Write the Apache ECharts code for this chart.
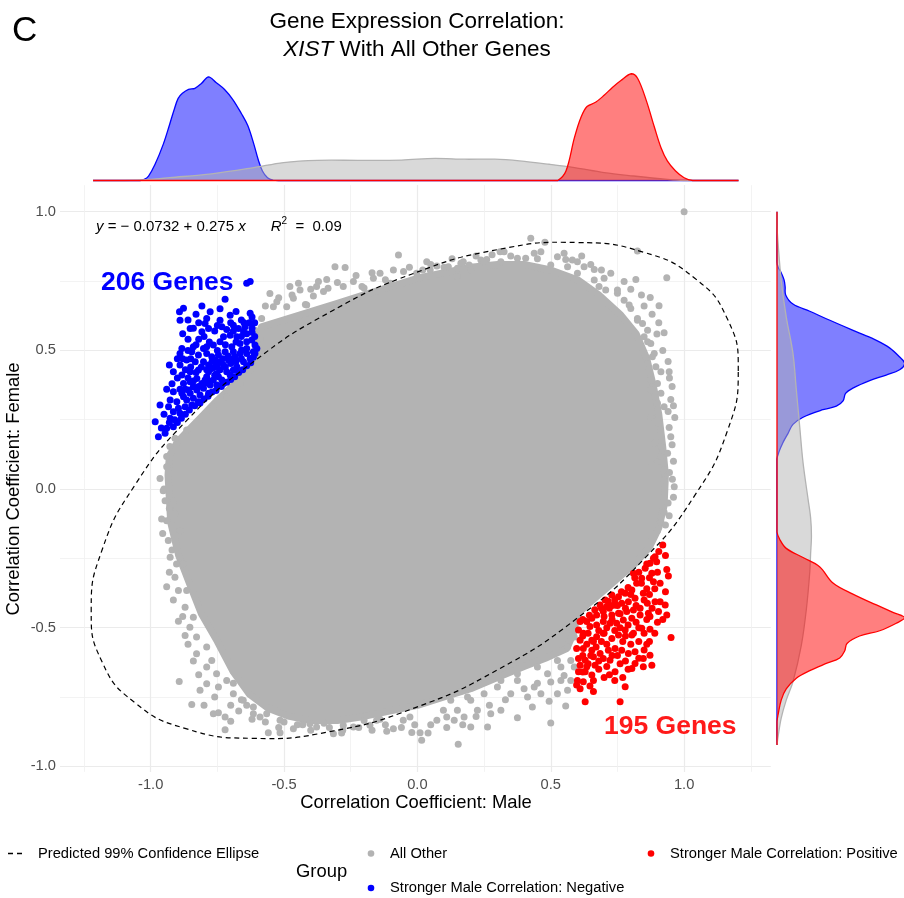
<!DOCTYPE html>
<html>
<head>
<meta charset="utf-8">
<script src="https://cdn.jsdelivr.net/npm/echarts@6/dist/echarts.min.js"></script>
<style>
  html, body { margin: 0; padding: 0; background: #ffffff; }
  #chart { width: 904px; height: 898px; }
</style>
</head>
<body>
<div id="chart"></div>
<script>
// ---- axis ticks ----
const xTicks = [-1.0, -0.5, 0.0, 0.5, 1.0];
const xMinorTicks = [-1.25, -0.75, -0.25, 0.25, 0.75, 1.25];
const yTicks = [-1.0, -0.5, 0.0, 0.5, 1.0];
const yMinorTicks = [-0.75, -0.25, 0.25, 0.75];

// ---- outline of the dense "All Other" cloud (male r, female r) ----
const cloudOutline = [
  [-0.935,0.05],[-0.93,0.12],[-0.90,0.17],[-0.85,0.22],[-0.80,0.27],[-0.75,0.32],[-0.70,0.365],
  [-0.65,0.415],[-0.615,0.46],[-0.60,0.53],[-0.585,0.585],[-0.50,0.61],[-0.40,0.64],[-0.30,0.67],
  [-0.20,0.70],[-0.10,0.73],[0.00,0.76],[0.10,0.78],[0.20,0.80],[0.30,0.81],[0.40,0.81],[0.50,0.79],
  [0.60,0.755],[0.68,0.70],[0.76,0.63],[0.82,0.56],[0.86,0.47],[0.885,0.37],[0.905,0.27],[0.92,0.15],
  [0.93,0.05],[0.925,-0.06],[0.905,-0.14],[0.87,-0.21],[0.82,-0.265],[0.76,-0.315],[0.70,-0.365],
  [0.645,-0.41],[0.60,-0.45],[0.585,-0.52],[0.56,-0.575],[0.48,-0.61],[0.40,-0.64],[0.30,-0.68],
  [0.20,-0.72],[0.10,-0.75],[0.00,-0.78],[-0.10,-0.80],[-0.20,-0.82],[-0.30,-0.835],[-0.40,-0.835],
  [-0.48,-0.82],[-0.56,-0.79],[-0.63,-0.74],[-0.69,-0.66],[-0.75,-0.55],[-0.81,-0.45],
  [-0.855,-0.34],[-0.895,-0.24],[-0.925,-0.12]
];

// ---- individual "All Other" genes around the edge of the cloud ----
const otherPoints = [
  [-0.609,0.573],[-0.59,0.543],[-0.584,0.615],[-0.553,0.705],[-0.527,0.675],[-0.54,0.657],[-0.49,0.657],
  [-0.478,0.730],[-0.465,0.688],[-0.446,0.742],[-0.44,0.718],[-0.415,0.664],[-0.39,0.696],[-0.378,0.730],
  [-0.371,0.748],[-0.352,0.712],[-0.34,0.756],[-0.335,0.724],[-0.309,0.802],[-0.278,0.730],[-0.271,0.799],
  [-0.24,0.748],[-0.208,0.73],[-0.165,0.760],[-0.14,0.778],[-0.102,0.742],[-0.071,0.844],[-0.052,0.784],
  [-0.003,0.778],[0.035,0.820],[0.048,0.79],[0.073,0.804],[0.116,0.802],[0.148,0.766],[0.172,0.82],
  [0.15,0.796],[0.194,0.808],[0.238,0.826],[0.26,0.828],[0.31,0.856],[0.325,0.856],[0.406,0.832],
  [0.425,0.904],[0.438,0.850],[0.463,0.856],[0.478,0.890],[0.5,0.808],[0.556,0.828],[0.581,0.826],
  [0.616,0.840],[0.663,0.792],[0.706,0.718],[0.725,0.778],[0.75,0.706],[0.775,0.748],[0.794,0.664],
  [0.819,0.756],[0.825,0.858],[0.825,0.615],[0.863,0.573],[0.873,0.691],[0.906,0.661],[0.935,0.762],
  [0.898,0.559],[0.925,0.564],[0.863,0.531],[0.881,0.477],[0.944,0.423],[0.9,0.381],[0.875,0.393],
  [0.913,0.345],[0.95,0.323],[0.925,0.297],[0.965,0.258],[0.944,0.222],[0.906,0.237],[0.95,0.189],
  [0.913,0.153],[0.938,0.129],[0.9,0.099],[0.925,0.069],[0.956,0.035],[0.963,0.008],[0.925,-0.084],
  [0.944,-0.096],[0.9,-0.15],[0.913,-0.12],[0.875,-0.186],
  [0.663,0.754],[0.70,0.760],[0.681,0.730],[0.75,0.718],[0.775,0.681],[0.80,0.651],[0.825,0.609],
  [0.844,0.597],[0.85,0.549],[0.875,0.525],[0.888,0.489],[0.863,0.453],[0.894,0.441],[0.913,0.423],
  [0.875,0.357],[0.90,0.309],[0.875,0.261],[0.888,0.165],[0.913,0.117],[0.875,0.081],[0.925,0.032],
  [0.563,0.802],[0.60,0.778],[0.625,0.802],[0.525,0.838],[0.375,0.832],[0.313,0.82],[0.25,0.82],
  [0.20,0.79],[0.163,0.814],[0.10,0.80],[0.02,0.79],[-0.12,0.755],[-0.20,0.725],[-0.42,0.665],
  [0.945,0.40],[0.955,0.37],[0.96,0.30],[0.94,0.28],[0.955,0.16],[0.96,0.10],[0.945,0.06],[0.96,-0.03],
  [0.94,-0.05],[0.93,-0.13],[0.94,0.46],[0.92,0.50],[0.905,0.60],[0.88,0.63],[0.85,0.66],[0.84,0.70],
  [0.80,0.72],[0.55,0.85],[0.60,0.82],[0.65,0.81],[0.69,0.79],[0.45,0.83],[0.35,0.84],[0.28,0.845],
  [0.22,0.84],[0.13,0.83],[0.05,0.81],[-0.03,0.80],[-0.09,0.79],[-0.17,0.78],[-0.23,0.77],[-0.30,0.745],
  [-0.40,0.72],[-0.47,0.70],[-0.52,0.69],[-0.57,0.66],
  [0.588,-0.642],[0.575,-0.618],[0.538,-0.642],[0.575,-0.69],[0.55,-0.672],[0.5,-0.696],[0.488,-0.666],
  [0.563,-0.726],[0.525,-0.738],[0.463,-0.738],[0.438,-0.714],[0.413,-0.75],[0.375,-0.69],[0.35,-0.738],
  [0.3,-0.714],[0.25,-0.738],[0.2,-0.762],[0.15,-0.798],[0.431,-0.786],[0.494,-0.765],[0.556,-0.782],
  [0.5,-0.844],[0.375,-0.825],[0.313,-0.798],[0.275,-0.81],[0.263,-0.858],[0.225,-0.798],[0.2,-0.858],
  [0.175,-0.822],[0.138,-0.834],[0.153,-0.92],[0.11,-0.822],[0.073,-0.834],[0.016,-0.906],[0.01,-0.879],
  [0.125,-0.762],[0.188,-0.75],[0.313,-0.69],[0.375,-0.666],[0.45,-0.642],[0.525,-0.618],[0.563,-0.57],
  [0.588,-0.534],[0.538,-0.69],[0.0975,-0.798],
  [0.45,-0.70],[0.40,-0.72],[0.33,-0.76],[0.27,-0.78],[0.22,-0.82],[0.17,-0.85],[0.11,-0.86],[0.05,-0.85],
  [0.04,-0.88],[-0.01,-0.85],[-0.06,-0.86],[-0.12,-0.85],[-0.17,-0.87],[-0.22,-0.86],[-0.28,-0.87],
  [-0.33,-0.86],[-0.40,-0.87],[-0.45,-0.85],[-0.52,-0.86],[-0.57,-0.84],[-0.62,-0.83],[-0.67,-0.80],
  [-0.70,-0.78],
  [-0.021,-0.878],[-0.053,-0.834],[-0.09,-0.864],[-0.115,-0.873],[-0.178,-0.852],[-0.24,-0.858],
  [-0.284,-0.88],[-0.315,-0.882],[-0.378,-0.858],[-0.465,-0.864],[-0.515,-0.879],[-0.559,-0.879],
  [-0.59,-0.822],[-0.615,-0.81],[-0.43,-0.85],[-0.35,-0.845],[-0.2,-0.835],[-0.14,-0.83],[-0.5,-0.84],
  [-0.66,-0.76],[-0.69,-0.70],[-0.64,-0.78],[-0.028,-0.822],[-0.153,-0.834],[-0.278,-0.852],
  [-0.403,-0.846],[-0.515,-0.834],[-0.565,-0.81],[-0.615,-0.786],[-0.653,-0.762],[-0.69,-0.738],
  [-0.715,-0.69],[-0.753,-0.666],[-0.771,-0.618],[-0.79,-0.57],[-0.828,-0.534],[-0.84,-0.462],
  [-0.871,-0.426],[-0.865,-0.366],[-0.909,-0.318],[-0.878,-0.27],[-0.903,-0.21],[-0.89,-0.15],
  [-0.909,-0.09],[-0.915,-0.042],
  [-0.94,0.08],[-0.95,0.0],[-0.93,-0.07],[-0.955,-0.16],[-0.92,-0.22],[-0.93,-0.30],[-0.915,-0.40],
  [-0.88,-0.46],[-0.86,-0.56],[-0.84,-0.62],[-0.82,-0.67],[-0.76,-0.75],[-0.80,-0.78],
  [-0.721,-0.868],[-0.70,-0.837],[-0.721,-0.822],[-0.746,-0.807],[-0.765,-0.81],[-0.746,-0.714],
  [-0.79,-0.702],[-0.815,-0.726],[-0.846,-0.777],[-0.893,-0.694],[-0.79,-0.642],[-0.828,-0.594],
  [-0.871,-0.528],[-0.853,-0.498],[-0.896,-0.477],[-0.896,-0.366],[-0.94,-0.352],[-0.903,-0.27],
  [-0.927,-0.246],[-0.934,-0.186],[-0.94,-0.114],[-0.959,-0.108],[-0.946,-0.042],[-0.953,-0.006],
  [-0.965,0.038],[-0.94,0.117],[-0.928,0.153],[-0.909,0.183],[-0.865,0.213],[-0.815,0.249],
  [-0.765,0.297],[-0.715,0.333],[-0.665,0.381],[-0.628,0.429],
  [1.0,1.0]
];

// ---- genes with stronger negative male correlation (206) ----
const negativePoints = [
  [-0.640,0.742],[-0.627,0.748],[-0.721,0.684],[-0.877,0.652],[-0.808,0.660],[-0.892,0.639],[-0.777,0.639],
  [-0.890,0.609],[-0.790,0.615],[-0.796,0.597],[-0.783,0.579],[-0.808,0.567],[-0.852,0.579],[-0.740,0.609],
  [-0.733,0.585],[-0.702,0.627],[-0.690,0.591],[-0.671,0.579],[-0.646,0.585],[-0.627,0.634],[-0.652,0.567],
  [-0.677,0.549],[-0.702,0.555],[-0.727,0.549],[-0.740,0.531],[-0.765,0.519],[-0.790,0.513],[-0.802,0.507],
  [-0.840,0.513],[-0.883,0.507],[-0.890,0.489],[-0.846,0.495],[-0.821,0.483],[-0.790,0.489],[-0.771,0.477],
  [-0.746,0.483],[-0.721,0.495],[-0.696,0.513],[-0.665,0.525],[-0.640,0.531],[-0.621,0.537],[-0.609,0.519],
  [-0.615,0.495],[-0.640,0.489],[-0.665,0.489],[-0.683,0.477],[-0.708,0.465],[-0.727,0.447],[-0.758,0.441],
  [-0.783,0.447],[-0.802,0.459],[-0.833,0.459],[-0.865,0.465],[-0.890,0.447],[-0.930,0.447],[-0.915,0.423],
  [-0.883,0.411],[-0.852,0.423],[-0.821,0.429],[-0.783,0.423],[-0.752,0.417],[-0.715,0.423],[-0.677,0.441],
  [-0.652,0.459],[-0.627,0.471],[-0.609,0.489],[-0.602,0.507],[-0.702,0.411],[-0.733,0.393],[-0.765,0.393],
  [-0.796,0.393],[-0.827,0.399],[-0.852,0.387],[-0.877,0.381],[-0.840,0.369],[-0.802,0.363],[-0.777,0.375],
  [-0.752,0.375],[-0.727,0.381],[-0.915,0.351],[-0.883,0.345],[-0.852,0.345],[-0.815,0.339],[-0.783,0.345],
  [-0.865,0.321],[-0.840,0.327],[-0.902,0.315],[-0.927,0.321],[-0.933,0.297],[-0.896,0.291],[-0.871,0.297],
  [-0.846,0.303],[-0.821,0.315],[-0.965,0.303],[-0.915,0.279],[-0.890,0.273],[-0.927,0.255],[-0.983,0.243],
  [-0.940,0.219],[-0.915,0.225],[-0.971,0.189],[-0.946,0.201],
  [-0.640,0.507],[-0.659,0.501],[-0.690,0.495],[-0.700,0.453],[-0.690,0.429],[-0.740,0.459],[-0.758,0.465],
  [-0.770,0.435],[-0.746,0.405],[-0.790,0.405],[-0.808,0.381],[-0.827,0.357],[-0.858,0.357],[-0.877,0.333],
  [-0.610,0.550],[-0.620,0.565],[-0.630,0.600],[-0.700,0.600],[-0.715,0.575],[-0.760,0.570],[-0.750,0.590],
  [-0.820,0.540],[-0.860,0.540],[-0.850,0.470],[-0.900,0.470],[-0.660,0.610],[-0.820,0.600],[-0.880,0.560],
  [-0.615,0.475],[-0.625,0.455],[-0.640,0.445],[-0.655,0.430],[-0.670,0.420],[-0.685,0.405],[-0.700,0.395],
  [-0.715,0.385],[-0.735,0.370],[-0.755,0.355],[-0.770,0.350],[-0.785,0.335],[-0.800,0.325],[-0.815,0.310],
  [-0.835,0.300],[-0.855,0.285],[-0.870,0.270],[-0.885,0.255],[-0.900,0.240],[-0.910,0.250],
  [-0.660,0.470],[-0.680,0.460],[-0.710,0.480],[-0.730,0.470],[-0.750,0.450],[-0.770,0.460],[-0.790,0.430],
  [-0.810,0.440],[-0.830,0.420],[-0.850,0.440],[-0.870,0.430],[-0.860,0.400],[-0.840,0.390],[-0.820,0.370],
  [-0.800,0.380],[-0.780,0.390],[-0.760,0.410],[-0.740,0.430],[-0.720,0.440],[-0.700,0.470],[-0.680,0.530],
  [-0.660,0.550],[-0.640,0.560],[-0.620,0.580],[-0.650,0.600],[-0.690,0.570],[-0.720,0.520],[-0.750,0.500],
  [-0.780,0.530],[-0.800,0.550],[-0.830,0.520],[-0.860,0.500],[-0.880,0.470],[-0.900,0.400],[-0.920,0.380],
  [-0.940,0.360],[-0.950,0.270],[-0.960,0.220],[-0.930,0.240],[-0.890,0.360],[-0.870,0.360],[-0.610,0.600],
  [-0.620,0.620],[-0.680,0.640],[-0.740,0.650],[-0.830,0.630],[-0.860,0.610],[-0.840,0.580]
];

// ---- genes with stronger positive male correlation (195) ----
const positivePoints = [
  [0.920,-0.202],[0.891,-0.244],[0.897,-0.262],[0.872,-0.268],[0.854,-0.286],[0.879,-0.304],[0.935,-0.290],
  [0.941,-0.314],[0.885,-0.334],[0.841,-0.322],[0.822,-0.340],[0.810,-0.304],[0.804,-0.364],[0.779,-0.376],
  [0.754,-0.388],[0.729,-0.382],[0.704,-0.400],[0.685,-0.418],[0.710,-0.424],[0.741,-0.418],[0.766,-0.412],
  [0.791,-0.406],[0.816,-0.394],[0.847,-0.376],[0.862,-0.412],[0.835,-0.430],[0.810,-0.436],[0.785,-0.442],
  [0.754,-0.448],[0.729,-0.454],[0.697,-0.442],[0.672,-0.454],[0.654,-0.466],[0.635,-0.478],[0.610,-0.478],
  [0.604,-0.508],[0.622,-0.520],[0.647,-0.496],[0.672,-0.490],[0.697,-0.478],[0.722,-0.484],[0.747,-0.484],
  [0.772,-0.472],[0.804,-0.466],[0.835,-0.454],[0.866,-0.448],[0.891,-0.406],[0.910,-0.406],[0.929,-0.418],
  [0.904,-0.442],[0.935,-0.454],[0.872,-0.460],[0.841,-0.502],[0.872,-0.506],[0.804,-0.526],[0.779,-0.508],
  [0.754,-0.526],[0.729,-0.539],[0.697,-0.520],[0.672,-0.533],[0.654,-0.545],[0.610,-0.545],[0.597,-0.575],
  [0.622,-0.575],[0.654,-0.581],[0.685,-0.593],[0.716,-0.581],[0.741,-0.575],[0.766,-0.581],[0.791,-0.593],
  [0.816,-0.587],[0.847,-0.611],[0.872,-0.599],[0.604,-0.611],[0.629,-0.617],[0.660,-0.605],[0.697,-0.611],
  [0.722,-0.617],[0.610,-0.635],[0.635,-0.641],[0.666,-0.635],[0.816,-0.629],[0.847,-0.641],[0.879,-0.635],
  [0.604,-0.659],[0.629,-0.659],[0.654,-0.671],[0.741,-0.659],[0.804,-0.647],[0.597,-0.707],[0.622,-0.695],
  [0.647,-0.710],[0.779,-0.713],[0.629,-0.767],[0.760,-0.767],[0.951,-0.535],
  [0.700,-0.460],[0.730,-0.420],[0.760,-0.450],[0.780,-0.430],[0.790,-0.490],[0.820,-0.480],[0.850,-0.520],
  [0.860,-0.560],[0.830,-0.550],[0.800,-0.560],[0.770,-0.550],[0.740,-0.510],[0.710,-0.500],[0.680,-0.510],
  [0.660,-0.550],[0.640,-0.520],[0.620,-0.600],[0.640,-0.630],[0.680,-0.620],[0.710,-0.640],[0.620,-0.660],
  [0.600,-0.690],[0.840,-0.340],[0.860,-0.360],[0.870,-0.320],[0.900,-0.300],
  [0.620,-0.470],[0.645,-0.455],[0.665,-0.435],[0.690,-0.430],[0.715,-0.405],[0.740,-0.400],[0.765,-0.370],
  [0.790,-0.355],[0.815,-0.320],[0.830,-0.300],[0.860,-0.270],[0.885,-0.250],[0.905,-0.225],[0.930,-0.240],
  [0.620,-0.530],[0.635,-0.560],[0.650,-0.600],[0.670,-0.570],[0.690,-0.550],[0.710,-0.560],[0.730,-0.600],
  [0.750,-0.600],[0.760,-0.630],[0.780,-0.620],[0.790,-0.650],[0.770,-0.680],[0.740,-0.690],[0.720,-0.670],
  [0.700,-0.680],[0.680,-0.650],[0.660,-0.690],[0.830,-0.610],[0.850,-0.580],[0.870,-0.550],[0.890,-0.520],
  [0.900,-0.480],[0.920,-0.470],[0.880,-0.430],[0.860,-0.470],[0.830,-0.500],[0.810,-0.520],[0.780,-0.530],
  [0.760,-0.500],[0.730,-0.470],[0.700,-0.520],[0.720,-0.430],[0.750,-0.420],[0.800,-0.380],[0.820,-0.420],
  [0.850,-0.400],[0.870,-0.380],[0.890,-0.360],[0.910,-0.340],[0.930,-0.370],[0.610,-0.720],[0.660,-0.730]
];

// ---- predicted 99% confidence ellipse, vertices ----
const ellipsePath = [
  [1.203,0.426],[1.162,0.614],[1.040,0.760],[0.848,0.854],[0.596,0.889],[0.304,0.864],[-0.010,0.779],
  [-0.324,0.640],[-0.616,0.458],[-0.868,0.244],[-1.060,0.013],[-1.182,-0.219],[-1.223,-0.436],
  [-1.182,-0.624],[-1.060,-0.770],[-0.868,-0.864],[-0.616,-0.899],[-0.324,-0.874],[-0.010,-0.789],
  [0.304,-0.650],[0.596,-0.468],[0.848,-0.254],[1.040,-0.023],[1.162,0.209]
];

// ---- marginal densities along the male axis: [r, density] ----
const topNegative = [
  [-1.216,0],[-1.10,0],[-1.04,0],[-1.024,0.04],[-1.008,0.16],[-0.984,0.57],[-0.953,1.29],[-0.929,2.00],
  [-0.913,2.50],[-0.897,2.93],[-0.881,3.11],[-0.858,3.25],[-0.834,3.29],[-0.810,3.46],[-0.783,3.70],
  [-0.755,3.50],[-0.723,3.25],[-0.692,2.89],[-0.660,2.39],[-0.636,1.96],[-0.613,1.29],[-0.597,0.75],
  [-0.581,0.34],[-0.562,0.10],[-0.541,0.01],[-0.52,0],[0.0,0],[1.204,0]
];
const topOther = [
  [-1.216,0],[-1.10,0],[-1.0,0.04],[-0.929,0.10],[-0.771,0.24],[-0.613,0.46],[-0.502,0.64],[-0.375,0.72],
  [-0.217,0.72],[-0.059,0.73],[0.067,0.79],[0.178,0.76],[0.289,0.76],[0.383,0.70],[0.494,0.58],
  [0.589,0.46],[0.700,0.28],[0.810,0.16],[0.937,0.04],[1.0,0],[1.10,0],[1.204,0]
];
const topPositive = [
  [-1.216,0],[0.0,0],[0.50,0],[0.526,0],[0.557,0.34],[0.589,1.54],[0.613,2.25],[0.636,2.64],[0.668,2.79],
  [0.700,3.04],[0.731,3.32],[0.763,3.57],[0.802,3.81],[0.826,3.64],[0.858,2.86],[0.889,1.89],[0.913,1.18],
  [0.937,0.70],[0.968,0.34],[1.000,0.10],[1.032,0],[1.10,0],[1.204,0]
];

// ---- marginal densities along the female axis: [density, r] ----
const rightNegative = [
  [0,1.0],[0,0.82],[0.04,0.80],[0.12,0.786],[0.25,0.755],[0.29,0.73],[0.31,0.70],[0.57,0.667],[1.17,0.641],
  [1.76,0.614],[2.36,0.588],[2.95,0.562],[3.55,0.536],[4.02,0.509],[4.38,0.476],[4.56,0.453],[4.38,0.430],
  [3.90,0.411],[3.31,0.391],[2.71,0.364],[2.45,0.345],[2.36,0.318],[2.12,0.299],[1.64,0.286],[0.93,0.259],
  [0.57,0.233],[0.39,0.200],[0.21,0.167],[0.07,0.134],[0,0.108],[0,0.0],[0,-0.923]
];
const rightOther = [
  [0,1.0],[0,0.95],[0.04,0.884],[0.15,0.753],[0.33,0.621],[0.57,0.489],[0.69,0.358],[0.81,0.226],[0.93,0.095],
  [1.11,-0.037],[1.20,-0.103],[1.23,-0.168],[1.20,-0.234],[1.17,-0.300],[1.05,-0.432],[0.87,-0.563],
  [0.57,-0.695],[0.33,-0.761],[0.15,-0.826],[0.04,-0.892],[0,-0.923]
];
const rightPositive = [
  [0,1.0],[0,0.0],[0,-0.155],[0.10,-0.182],[0.33,-0.214],[0.93,-0.247],[1.52,-0.280],[2.00,-0.339],
  [2.71,-0.379],[3.55,-0.418],[4.14,-0.445],[4.56,-0.464],[4.26,-0.484],[3.67,-0.511],[2.95,-0.530],
  [2.50,-0.557],[2.42,-0.583],[2.24,-0.609],[1.76,-0.629],[1.17,-0.655],[0.69,-0.682],[0.33,-0.721],
  [0.15,-0.761],[0.04,-0.813],[0,-0.839],[0,-0.923]
];

// ---- colours ----
const GREY = '#b3b3b3';
const BLUE = '#0000ff';
const RED = '#ff0000';
const FONT = '"Liberation Sans", Arial, Helvetica, sans-serif';

// bounding box of a pixel point list, used to keep smoothed curves inside it
function bounds(pts) {
  const lo = [Infinity, Infinity], hi = [-Infinity, -Infinity];
  pts.forEach(p => {
    lo[0] = Math.min(lo[0], p[0]); lo[1] = Math.min(lo[1], p[1]);
    hi[0] = Math.max(hi[0], p[0]); hi[1] = Math.max(hi[1], p[1]);
  });
  return [lo, hi];
}

// a shape drawn once per series from a list of data points
function shapeFromPoints(points, opts) {
  return function (params, api) {
    if (params.dataIndex !== 0) return null;
    const pts = points.map(p => api.coord(p));
    const box = opts.smooth && !opts.closed ? bounds(pts) : undefined;
    const children = [];
    if (opts.fill) {
      children.push({
        type: 'polygon',
        shape: { points: pts, smooth: opts.smooth || 0, smoothConstraint: box },
        style: { fill: opts.fill, stroke: opts.outline || 'none', lineWidth: opts.outlineWidth || 0, lineJoin: 'round' }
      });
    }
    if (opts.stroke) {
      children.push({
        type: opts.closed ? 'polygon' : 'polyline',
        shape: { points: pts, smooth: opts.smooth || 0, smoothConstraint: box },
        style: { fill: 'none', stroke: opts.stroke, lineWidth: opts.lineWidth || 1, lineDash: opts.lineDash || null }
      });
    }
    return { type: 'group', children: children };
  };
}

function densitySeries(points, xi, yi, fill, stroke) {
  return {
    type: 'custom', xAxisIndex: xi, yAxisIndex: yi, silent: true, z: 3,
    data: points,
    renderItem: shapeFromPoints(points, { fill: fill, stroke: stroke, lineWidth: 1.3, smooth: 0.35 })
  };
}

const hiddenAxis = {
  show: false, splitLine: { show: false }, axisLine: { show: false }, axisTick: { show: false }, axisLabel: { show: false }
};

const chart = echarts.init(document.getElementById('chart'), null, { renderer: 'canvas' });

chart.setOption({
  animation: false,
  backgroundColor: '#ffffff',
  grid: [
    { left: 60, top: 185.1, width: 710.8, height: 586.8, outerBoundsMode: 'none', containLabel: false },
    { left: 60, top: 60, width: 710.8, height: 120.5, outerBoundsMode: 'none', containLabel: false },
    { left: 777, top: 185.1, width: 140, height: 586.8, outerBoundsMode: 'none', containLabel: false }
  ],
  xAxis: [
    {
      gridIndex: 0, type: 'value', min: -1.34, max: 1.325,
      axisLine: { show: false },
      axisTick: { show: false, customValues: xTicks },
      axisLabel: {
        customValues: xTicks, margin: 6, color: '#4d4d4d', fontSize: 14.7, fontFamily: FONT,
        formatter: v => v.toFixed(1)
      },
      splitLine: { show: true, lineStyle: { color: '#ebebeb', width: 1.2 } }
    },
    {
      gridIndex: 0, type: 'value', min: -1.34, max: 1.325, position: 'bottom',
      axisLine: { show: false },
      axisTick: { show: false, customValues: xMinorTicks },
      axisLabel: { show: false, customValues: xMinorTicks },
      splitLine: { show: true, lineStyle: { color: '#f0f0f0', width: 0.8 } }
    },
    Object.assign({ gridIndex: 1, type: 'value', min: -1.34, max: 1.325 }, hiddenAxis),
    Object.assign({ gridIndex: 2, type: 'value', min: 0, max: 5 }, hiddenAxis)
  ],
  yAxis: [
    {
      gridIndex: 0, type: 'value', min: -1.02, max: 1.096,
      axisLine: { show: false },
      axisTick: { show: false, customValues: yTicks },
      axisLabel: {
        customValues: yTicks, margin: 4, color: '#4d4d4d', fontSize: 14.7, fontFamily: FONT,
        formatter: v => v.toFixed(1)
      },
      splitLine: { show: true, lineStyle: { color: '#ebebeb', width: 1.2 } }
    },
    {
      gridIndex: 0, type: 'value', min: -1.02, max: 1.096, position: 'left',
      axisLine: { show: false },
      axisTick: { show: false, customValues: yMinorTicks },
      axisLabel: { show: false, customValues: yMinorTicks },
      splitLine: { show: true, lineStyle: { color: '#f0f0f0', width: 0.8 } }
    },
    Object.assign({ gridIndex: 1, type: 'value', min: 0, max: 4.30 }, hiddenAxis),
    Object.assign({ gridIndex: 2, type: 'value', min: -1.02, max: 1.096 }, hiddenAxis)
  ],
  series: [
    {
      name: 'All Other (core)', type: 'custom', xAxisIndex: 0, yAxisIndex: 0, silent: true, z: 2,
      data: cloudOutline,
      renderItem: shapeFromPoints(cloudOutline, { fill: GREY, outline: GREY, outlineWidth: 7 })
    },
    {
      name: 'All Other', type: 'scatter', xAxisIndex: 0, yAxisIndex: 0, silent: true, z: 2,
      symbolSize: 7, itemStyle: { color: GREY, opacity: 1 }, data: otherPoints
    },
    {
      name: 'Stronger Male Correlation: Negative', type: 'scatter', xAxisIndex: 0, yAxisIndex: 0, silent: true, z: 3,
      symbolSize: 7, itemStyle: { color: BLUE, opacity: 1 }, data: negativePoints
    },
    {
      name: 'Stronger Male Correlation: Positive', type: 'scatter', xAxisIndex: 0, yAxisIndex: 0, silent: true, z: 3,
      symbolSize: 7, itemStyle: { color: RED, opacity: 1 }, data: positivePoints
    },
    {
      name: 'Predicted 99% Confidence Ellipse', type: 'custom', xAxisIndex: 0, yAxisIndex: 0, silent: true, z: 5,
      data: ellipsePath,
      renderItem: shapeFromPoints(ellipsePath, { stroke: '#000000', lineWidth: 1.2, lineDash: [5, 3.7], smooth: 0.5, closed: true })
    },
    densitySeries(topNegative, 2, 2, 'rgba(0,0,255,0.5)', BLUE),
    densitySeries(topOther, 2, 2, 'rgba(179,179,179,0.5)', '#b3b3b3'),
    densitySeries(topPositive, 2, 2, 'rgba(255,0,0,0.5)', RED),
    densitySeries(rightNegative, 3, 3, 'rgba(0,0,255,0.5)', BLUE),
    densitySeries(rightOther, 3, 3, 'rgba(179,179,179,0.5)', '#b3b3b3'),
    densitySeries(rightPositive, 3, 3, 'rgba(255,0,0,0.5)', RED)
  ],
  graphic: [
    { type: 'text', left: 12, top: 14, z: 100, silent: true,
      style: { text: 'C', font: '35px ' + FONT, fill: '#000' } },
    { type: 'text', x: 417, y: 22, z: 100, silent: true,
      style: { text: 'Gene Expression Correlation:', font: '22.5px ' + FONT, fill: '#000', align: 'center', verticalAlign: 'middle' } },
    { type: 'text', x: 417, y: 50, z: 100, silent: true,
      style: {
        text: '{i|XIST} With All Other Genes', font: '22.5px ' + FONT, fill: '#000', align: 'center', verticalAlign: 'middle',
        rich: { i: { fontStyle: 'italic', fontSize: 22.5, fontFamily: FONT } }
      } },
    { type: 'text', x: 96, y: 227, z: 100, silent: true,
      style: {
        text: '{i|y} = \u2212 0.0732 + 0.275 {i|x}      {i|R}{s|2}  =  0.09', font: '15px ' + FONT, fill: '#000',
        verticalAlign: 'middle',
        rich: {
          i: { fontStyle: 'italic', fontSize: 15, fontFamily: FONT },
          s: { fontSize: 10, fontFamily: FONT, verticalAlign: 'top', lineHeight: 22 }
        }
      } },
    { type: 'text', x: 101, y: 283, z: 100, silent: true,
      style: { text: '206 Genes', font: 'bold 26.5px ' + FONT, fill: BLUE, verticalAlign: 'middle' } },
    { type: 'text', x: 604, y: 727, z: 100, silent: true,
      style: { text: '195 Genes', font: 'bold 26.5px ' + FONT, fill: '#ff1a1a', verticalAlign: 'middle' } },
    { type: 'text', x: 416, y: 803, z: 100, silent: true,
      style: { text: 'Correlation Coefficient: Male', font: '18.4px ' + FONT, fill: '#000', align: 'center', verticalAlign: 'middle' } },
    { type: 'text', x: 14, y: 489, rotation: Math.PI / 2, z: 100, silent: true,
      style: { text: 'Correlation Coefficient: Female', font: '18.4px ' + FONT, fill: '#000', align: 'center', verticalAlign: 'middle' } },
    // legend
    { type: 'line', z: 100, silent: true, shape: { x1: 8, y1: 853.5, x2: 26, y2: 853.5 },
      style: { stroke: '#000', lineWidth: 1.3, lineDash: [5, 4] } },
    { type: 'text', x: 38, y: 853.5, z: 100, silent: true,
      style: { text: 'Predicted 99% Confidence Ellipse', font: '14.7px ' + FONT, fill: '#000', verticalAlign: 'middle' } },
    { type: 'text', x: 296, y: 872, z: 100, silent: true,
      style: { text: 'Group', font: '18.4px ' + FONT, fill: '#000', verticalAlign: 'middle' } },
    { type: 'circle', z: 100, silent: true, shape: { cx: 371, cy: 853.5, r: 3.3 }, style: { fill: GREY } },
    { type: 'text', x: 390, y: 853.5, z: 100, silent: true,
      style: { text: 'All Other', font: '14.7px ' + FONT, fill: '#000', verticalAlign: 'middle' } },
    { type: 'circle', z: 100, silent: true, shape: { cx: 371, cy: 888, r: 3.3 }, style: { fill: BLUE } },
    { type: 'text', x: 390, y: 888, z: 100, silent: true,
      style: { text: 'Stronger Male Correlation: Negative', font: '14.7px ' + FONT, fill: '#000', verticalAlign: 'middle' } },
    { type: 'circle', z: 100, silent: true, shape: { cx: 651, cy: 853.5, r: 3.3 }, style: { fill: RED } },
    { type: 'text', x: 670, y: 853.5, z: 100, silent: true,
      style: { text: 'Stronger Male Correlation: Positive', font: '14.7px ' + FONT, fill: '#000', verticalAlign: 'middle' } }
  ]
});
</script>
</body>
</html>
